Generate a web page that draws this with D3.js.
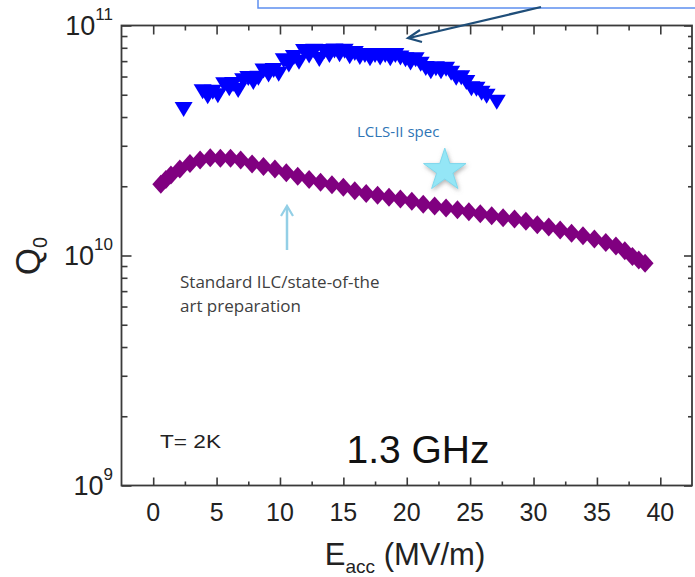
<!DOCTYPE html>
<html>
<head>
<meta charset="utf-8">
<script src="https://cdn.jsdelivr.net/npm/d3@7/dist/d3.min.js"></script>
<style>
  html, body { margin: 0; padding: 0; background: #fff; }
  svg { display: block; }
</style>
</head>
<body>
<svg id="chart" width="695" height="577"></svg>
<script>
// ---------------- DATA ----------------
// Blue series (down triangles): Eacc (MV/m), Q0
const blueE = [2.4, 3.9, 4.3, 4.7, 5.1, 5.6, 6.0, 6.3, 6.7, 7.1, 7.5, 7.9, 8.3, 8.7, 9.1, 9.5, 9.9,
  10.3, 10.7, 11.1, 11.5, 11.9, 12.3, 12.7, 13.1, 13.5, 13.9, 14.3, 14.7, 15.1, 15.5, 15.9, 16.3,
  16.7, 17.1, 17.5, 17.9, 18.3, 18.7, 19.1, 19.5, 19.9, 20.3, 20.7, 21.1, 21.5, 21.9, 22.3, 22.7,
  23.1, 23.5, 23.9, 24.3, 24.7, 25.1, 25.5, 25.9, 26.3, 27.1];
const blueQ = [4.42e10, 5.28e10, 5.02e10, 5.25e10, 5.08e10, 5.66e10, 5.45e10, 5.68e10, 5.35e10, 5.9e10,
  6.03e10, 5.8e10, 6.05e10, 6.5e10, 6.25e10, 6.53e10, 6.3e10, 7.2e10, 6.9e10, 7.45e10, 7.1e10,
  7.9e10, 7.55e10, 7.93e10, 7.3e10, 7.9e10, 7.6e10, 7.95e10, 7.65e10, 7.92e10, 7.5e10, 7.75e10,
  7.45e10, 7.6e10, 7.35e10, 7.6e10, 7.4e10, 7.6e10, 7.35e10, 7.6e10, 7.4e10, 7.28e10, 7.05e10,
  7.27e10, 6.95e10, 6.66e10, 6.45e10, 6.65e10, 6.45e10, 6.62e10, 6.35e10, 6.05e10, 6.08e10,
  5.8e10, 5.45e10, 5.42e10, 5.2e10, 5.05e10, 4.75e10];

// Purple series (diamonds): Eacc (MV/m), Q0
const purpleE = [0.6, 1.0, 1.4, 2.1, 2.9, 3.7, 4.5, 5.3, 6.1, 6.9, 7.8, 8.7, 9.6, 10.5, 11.4, 12.3,
  13.2, 14.1, 15.0, 15.9, 16.8, 17.7, 18.6, 19.5, 20.4, 21.3, 22.2, 23.1, 24.0, 24.9, 25.8, 26.7,
  27.6, 28.5, 29.4, 30.3, 31.2, 32.1, 33.0, 33.9, 34.8, 35.7, 36.5, 37.2, 37.8, 38.3, 38.8];
const purpleQ = [2.04e10, 2.14e10, 2.24e10, 2.38e10, 2.51e10, 2.60e10, 2.66e10, 2.65e10, 2.65e10,
  2.60e10, 2.50e10, 2.44e10, 2.38e10, 2.29e10, 2.21e10, 2.14e10, 2.08e10, 2.03e10, 1.98e10,
  1.91e10, 1.86e10, 1.83e10, 1.79e10, 1.76e10, 1.72e10, 1.67e10, 1.64e10, 1.61e10, 1.58e10,
  1.55e10, 1.52e10, 1.49e10, 1.46e10, 1.44e10, 1.41e10, 1.36e10, 1.33e10, 1.29e10, 1.25e10,
  1.22e10, 1.18e10, 1.14e10, 1.10e10, 1.05e10, 0.99e10, 0.955e10, 0.925e10];

// LCLS-II spec point (star)
const specE = [23.0];
const specQ = [2.39e10];

// Axis ticks
const xMajorTicks = [0, 5, 10, 15, 20, 25, 30, 35, 40];
const xMinorTicks = [2.5, 7.5, 12.5, 17.5, 22.5, 27.5, 32.5, 37.5];
const yMajorTicks = [1e9, 1e10, 1e11];
const yMajorExp = ["9", "10", "11"];
const yMinorTicks = [2e9, 3e9, 4e9, 5e9, 6e9, 7e9, 8e9, 9e9, 2e10, 3e10, 4e10, 5e10, 6e10, 7e10, 8e10, 9e10];

// Texts
const xTitleMain = "E", xTitleSub = "acc", xTitleUnit = " (MV/m)";
const yTitleMain = "Q", yTitleSub = "0";
const labelFreq = "1.3 GHz";
const labelTemp = "T= 2K";
const labelSpec = "LCLS-II spec";
const labelStd = ["Standard ILC/state-of-the", "art preparation"];

// ---------------- LAYOUT ----------------
const L = 121.5, R = 692, T = 25.5, B = 485.5;
const svg = d3.select("#chart");
const FONT = "'Liberation Sans', Arial, sans-serif";
const CAL = "'Open Sans', Lato, sans-serif";
const axisColor = "#3a3a3a";

const x = d3.scaleLinear().domain([-2.5, 42.5]).range([L, R]);
const y = d3.scaleLog().domain([1e9, 1e11]).range([B, T]);

const defs = svg.append("defs");
const f = defs.append("filter").attr("id", "shadow").attr("x", "-50%").attr("y", "-50%").attr("width", "200%").attr("height", "200%");
f.append("feDropShadow").attr("dx", 1).attr("dy", 2).attr("stdDeviation", 2).attr("flood-color", "#777").attr("flood-opacity", 0.55);

// Top blue box (cut off at the top)
svg.append("rect").attr("x", 258).attr("y", -6).attr("width", 500).attr("height", 14)
  .attr("fill", "#fff").attr("stroke", "#5d8fef").attr("stroke-width", 1.5);

// ---------------- AXES ----------------
function styleAxis(g) {
  g.select(".domain").remove();
  g.selectAll(".tick line").attr("stroke", axisColor).attr("stroke-width", 1.6);
  g.selectAll(".tick text").remove();
}
svg.append("g").attr("transform", `translate(0,${B})`)
  .call(d3.axisTop(x).tickValues(xMajorTicks).tickSize(8).tickFormat("")).call(styleAxis);
svg.append("g").attr("transform", `translate(0,${B})`)
  .call(d3.axisTop(x).tickValues(xMinorTicks).tickSize(4).tickFormat("")).call(styleAxis);
svg.append("g").attr("transform", `translate(0,${T})`)
  .call(d3.axisBottom(x).tickValues(xMajorTicks).tickSize(9).tickFormat("")).call(styleAxis);
svg.append("g").attr("transform", `translate(0,${T})`)
  .call(d3.axisBottom(x).tickValues(xMinorTicks).tickSize(5).tickFormat("")).call(styleAxis);
svg.append("g").attr("transform", `translate(${L},0)`)
  .call(d3.axisRight(y).tickValues(yMajorTicks).tickSize(10).tickFormat("")).call(styleAxis);
svg.append("g").attr("transform", `translate(${L},0)`)
  .call(d3.axisRight(y).tickValues(yMinorTicks).tickSize(6).tickFormat("")).call(styleAxis);
svg.append("g").attr("transform", `translate(${R},0)`)
  .call(d3.axisLeft(y).tickValues(yMajorTicks).tickSize(8).tickFormat("")).call(styleAxis);
svg.append("g").attr("transform", `translate(${R},0)`)
  .call(d3.axisLeft(y).tickValues(yMinorTicks).tickSize(4).tickFormat("")).call(styleAxis);

svg.append("rect").attr("x", L).attr("y", T).attr("width", R - L).attr("height", B - T)
  .attr("fill", "none").attr("stroke", axisColor).attr("stroke-width", 1.8);

// x tick labels
svg.append("g").selectAll("text").data(xMajorTicks).join("text")
  .attr("x", d => x(d)).attr("y", B + 35)
  .attr("text-anchor", "middle").attr("font-family", FONT).attr("font-size", 25).attr("fill", "#222")
  .text(d => d);

// y tick labels 10^n
const yl = svg.append("g").selectAll("text").data(yMajorTicks).join("text")
  .attr("x", 113).attr("y", d => y(d) + 9)
  .attr("text-anchor", "end").attr("font-family", FONT).attr("fill", "#222");
yl.append("tspan").attr("font-size", 27).text("10");
yl.append("tspan").attr("font-size", 17).attr("dy", -15).text((d, i) => yMajorExp[i]);

// axis titles
const xt = svg.append("text").attr("x", 405).attr("y", 565).attr("text-anchor", "middle")
  .attr("font-family", FONT).attr("font-size", 31).attr("fill", "#222");
xt.append("tspan").text(xTitleMain);
xt.append("tspan").attr("font-size", 19).attr("dy", 8).text(xTitleSub);
xt.append("tspan").attr("dy", -8).text(xTitleUnit);

const yt = svg.append("text").attr("transform", "translate(40,256) rotate(-90)").attr("text-anchor", "middle")
  .attr("font-family", FONT).attr("font-size", 35).attr("fill", "#222");
yt.append("tspan").text(yTitleMain);
yt.append("tspan").attr("font-size", 20).attr("dy", 7).text(yTitleSub);

// ---------------- MARKS ----------------
const triW = 18, triH = 15;
const triPath = `M${-triW/2},${-triH/3}L${triW/2},${-triH/3}L0,${2*triH/3}Z`;
const diaW = 17, diaH = 19;
const diaPath = `M0,${-diaH/2}L${diaW/2},0L0,${diaH/2}L${-diaW/2},0Z`;

svg.append("g").selectAll("path").data(purpleE.map((e, i) => [e, purpleQ[i]])).join("path")
  .attr("d", diaPath).attr("transform", d => `translate(${x(d[0])},${y(d[1])})`)
  .attr("fill", "#800080");

svg.append("g").selectAll("path").data(blueE.map((e, i) => [e, blueQ[i]])).join("path")
  .attr("d", triPath).attr("transform", d => `translate(${x(d[0])},${y(d[1])})`)
  .attr("fill", "#0000ff");

// star (LCLS-II spec)
const star = d3.symbol().type(d3.symbolStar).size(560);
svg.append("g").selectAll("path").data(specE.map((e, i) => [e, specQ[i]])).join("path")
  .attr("d", star).attr("transform", d => `translate(${x(d[0])},${y(d[1]) + 2})`)
  .attr("fill", "#94e6f6").attr("stroke", "#7fd8ec").attr("stroke-width", 1)
  .attr("filter", "url(#shadow)");

// ---------------- ANNOTATIONS ----------------
svg.append("text").attr("x", 357).attr("y", 137).attr("font-family", CAL).attr("font-size", 15)
  .attr("fill", "#2e75b6").text(labelSpec);

svg.append("line").attr("x1", 541).attr("y1", 7).attr("x2", 409).attr("y2", 38)
  .attr("stroke", "#1f4e79").attr("stroke-width", 2.2);
svg.append("path").attr("d", "M420,30 L408,38 L422,42")
  .attr("fill", "none").attr("stroke", "#1f4e79").attr("stroke-width", 2.2).attr("stroke-linejoin", "miter");

svg.append("line").attr("x1", 287).attr("y1", 250).attr("x2", 287).attr("y2", 207)
  .attr("stroke", "#93cfe6").attr("stroke-width", 2.5);
svg.append("path").attr("d", "M281,216 L287,206 L293,216")
  .attr("fill", "none").attr("stroke", "#93cfe6").attr("stroke-width", 2.2);

const st = svg.append("text").attr("font-family", CAL).attr("font-size", 17).attr("fill", "#404040");
st.selectAll("tspan").data(labelStd).join("tspan")
  .attr("x", 180).attr("y", (d, i) => 288 + i * 23.5).text(d => d);

svg.append("text").attr("x", 160).attr("y", 448).attr("font-family", FONT).attr("font-size", 18)
  .attr("textLength", 61).attr("lengthAdjust", "spacingAndGlyphs")
  .attr("fill", "#222").text(labelTemp);
svg.append("text").attr("x", 418).attr("y", 463).attr("text-anchor", "middle").attr("font-family", FONT)
  .attr("font-size", 39).attr("fill", "#111").text(labelFreq);
</script>
</body>
</html>
